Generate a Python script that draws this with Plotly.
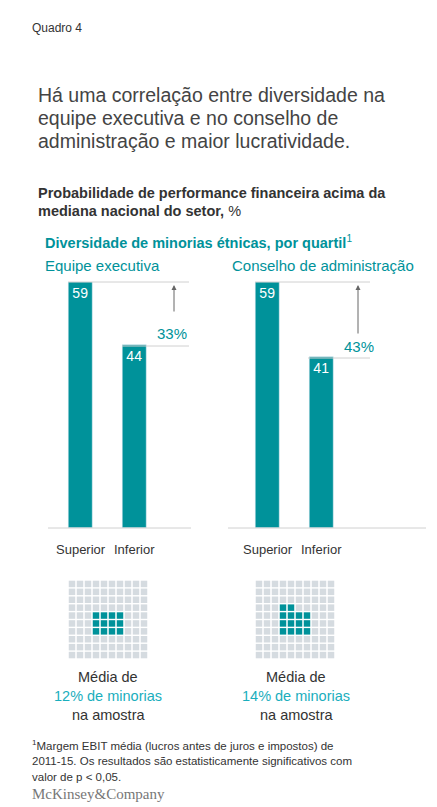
import plotly.graph_objects as go

W, H = 437, 807
categories = ["Superior", "Inferior"]
exec_vals = [59, 44]
board_vals = [59, 41]
exec_gap = "33%"
board_gap = "43%"
# teal cells per row in 10x10 grid (starting at column 3)
grid_left = [0, 0, 0, 0, 4, 4, 4, 0, 0, 0]
grid_right = [0, 0, 0, 2, 4, 4, 4, 0, 0, 0]

TEAL = "#00929a"
LTEAL = "#1aaebd"
TXT = "#333333"
FONT = "Liberation Sans"

def px(x): return x / W
def py(y): return 1 - y / H

fig = go.Figure()
for i, vals in enumerate([exec_vals, board_vals]):
    ax = "" if i == 0 else str(i + 1)
    fig.add_trace(go.Bar(x=categories, y=vals, marker_color=TEAL, width=0.46,
                         text=[str(v) for v in vals], textposition="inside",
                         insidetextanchor="end", textfont=dict(color="white", size=14, family=FONT),
                         xaxis="x" + ax, yaxis="y" + ax, showlegend=False, hoverinfo="skip"))

def grid_trace(counts, n):
    xs, ys, cs = [], [], []
    for r in range(10):
        for c in range(10):
            xs.append(c); ys.append(r)
            cs.append(TEAL if 3 <= c < 3 + counts[r] else "#d5dbe0")
    return go.Scatter(x=xs, y=ys, mode="markers", xaxis="x" + n, yaxis="y" + n,
                      marker=dict(symbol="square", size=6.5, color=cs), showlegend=False, hoverinfo="skip")

fig.add_trace(grid_trace(grid_left, "3"))
fig.add_trace(grid_trace(grid_right, "4"))

ybar = dict(domain=[py(520), py(274)], range=[0, 59], visible=False, fixedrange=True)
hidden = dict(visible=False, fixedrange=True)
fig.update_layout(
    width=W, height=H, margin=dict(l=0, r=0, t=0, b=0),
    paper_bgcolor="white", plot_bgcolor="white", bargap=0,
    xaxis=dict(domain=[px(45.5), px(153.5)], **hidden), yaxis=ybar,
    xaxis2=dict(domain=[px(232.5), px(340.5)], anchor="y2", **hidden), yaxis2=dict(anchor="x2", **ybar),
    xaxis3=dict(domain=[px(60), px(140)], range=[-0.5, 9.5], anchor="y3", **hidden),
    yaxis3=dict(domain=[py(651), py(572)], range=[9.5, -0.5], anchor="x3", **hidden),
    xaxis4=dict(domain=[px(247), px(327)], range=[-0.5, 9.5], anchor="y4", **hidden),
    yaxis4=dict(domain=[py(651), py(572)], range=[9.5, -0.5], anchor="x4", **hidden),
)

shapes = []
def line(x0, y0, x1, y1, color="#d0d0d0", w=1):
    shapes.append(dict(type="line", xref="paper", yref="paper", x0=px(x0), x1=px(x1),
                       y0=py(y0), y1=py(y1), line=dict(color=color, width=w)))
line(60, 274, 181, 274); line(114, 338, 181, 338); line(40, 520, 183, 520)
line(247, 274, 362, 274); line(300, 350, 362, 350); line(220, 520, 418, 520)
fig.update_layout(shapes=shapes)

ann = []
def text(x, y, s, size=12, color=TXT, anchor="left", yanchor="middle"):
    ann.append(dict(x=px(x), y=py(y), xref="paper", yref="paper", text=s, showarrow=False,
                    xanchor=anchor, yanchor=yanchor, font=dict(size=size, color=color, family=FONT)))
text(22, 20, "Quadro 4", 12)
text(28, 87, "Há uma correlação entre diversidade na", 19.5, "#444")
text(28, 110, "equipe executiva e no conselho de", 19.5, "#444")
text(28, 133, "administração e maior lucratividade.", 19.5, "#444")
text(28, 185, "<b>Probabilidade de performance financeira acima da</b>", 14.5)
text(28, 203, "<b>mediana nacional do setor,</b> %", 14.5)
text(35, 234, "<b>Diversidade de minorias étnicas, por quartil</b><sup>1</sup>", 14.5, TEAL)
text(35, 258, "Equipe executiva", 15, TEAL)
text(222, 258, "Conselho de administração", 15, TEAL)
text(181, 325, exec_gap, 15, TEAL, "right")
text(368, 338, board_gap, 15, TEAL, "right")
text(72.5, 541, "Superior", 13, anchor="center"); text(126.5, 541, "Inferior", 13, anchor="center")
text(259.5, 541, "Superior", 13, anchor="center"); text(313.5, 541, "Inferior", 13, anchor="center")
for cx, pct in [(100, "12%"), (288, "14%")]:
    text(cx, 669, "Média de", 14.5, anchor="center")
    text(cx, 688, pct + " de minorias", 14.5, LTEAL, "center")
    text(cx, 707, "na amostra", 14.5, anchor="center")
text(22, 737, "<sup>1</sup>Margem EBIT média (lucros antes de juros e impostos) de", 11.5)
text(22, 753, "2011-15. Os resultados são estatisticamente significativos com", 11.5)
text(22, 769, "valor de p < 0,05.", 11.5)
ann.append(dict(x=px(22), y=py(796), xref="paper", yref="paper", text="McKinsey&amp;Company",
                showarrow=False, xanchor="left", font=dict(size=15, color="#777", family="Liberation Serif")))
for x, y0 in [(166, 305), (350, 327)]:
    ann.append(dict(x=px(x), y=py(277), ax=0, ay=y0 - 277, xref="paper", yref="paper",
                    axref="pixel", ayref="pixel", text="", showarrow=True, arrowhead=2,
                    arrowsize=1, arrowwidth=1, arrowcolor="#666"))
fig.update_layout(annotations=ann)
fig.write_html("out.html")
